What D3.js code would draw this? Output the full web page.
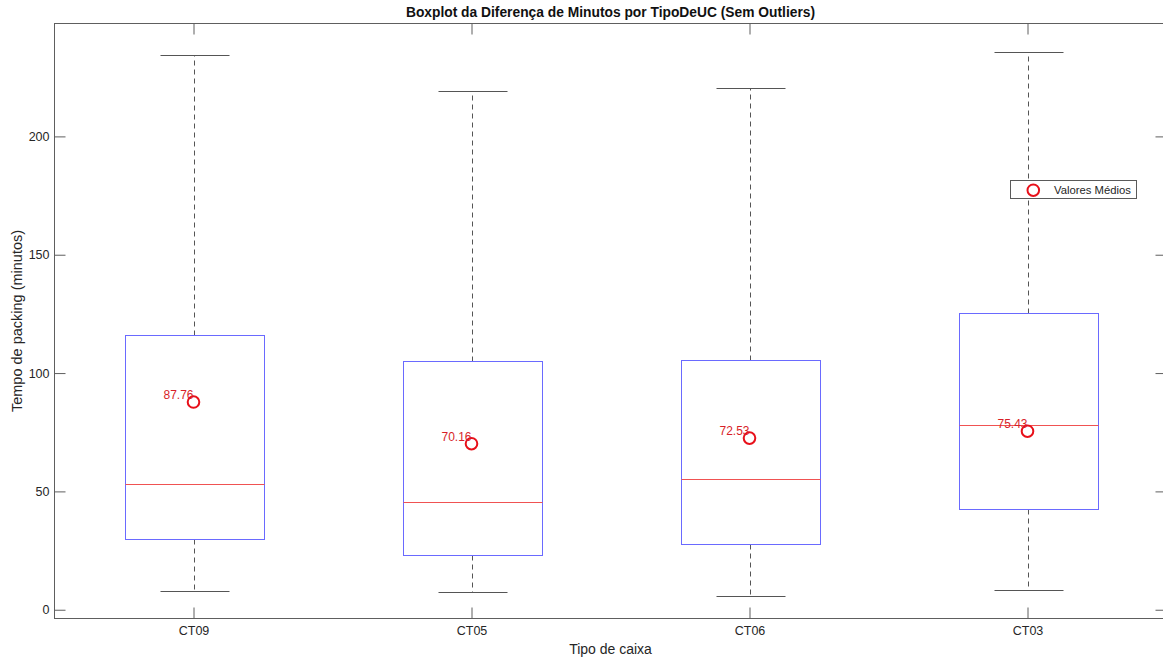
<!DOCTYPE html>
<html>
<head>
<meta charset="utf-8">
<script src="https://cdn.jsdelivr.net/npm/d3@7"></script>
<style>
  html, body { margin: 0; padding: 0; background: #fff; }
  svg { display: block; font-family: "Liberation Sans", Arial, Helvetica, sans-serif; }
</style>
</head>
<body>
<svg id="chart" width="1163" height="659"></svg>
<script>
// Box types and summary statistics (minutes)
const categories   = ["CT09", "CT05", "CT06", "CT03"];
const whiskerLow   = [7.9, 7.4, 5.9, 8.4];
const q1           = [29.7, 23.3, 27.9, 42.7];
const medians      = [53.2, 45.5, 55.3, 77.9];
const q3           = [115.9, 104.9, 105.6, 125.3];
const whiskerHigh  = [234.2, 219.0, 220.4, 235.6];
const means        = [87.76, 70.16, 72.53, 75.43];
const yTicks       = [0, 50, 100, 150, 200];
const yLimits      = [-3.7, 247.7];

const rows = categories.map((c, i) => ({
  cat: c, lo: whiskerLow[i], q1: q1[i], med: medians[i],
  q3: q3[i], hi: whiskerHigh[i], mean: means[i]
}));

const svg = d3.select("#chart");
const plot = { left: 54.5, right: 1166.5, top: 23.5, bottom: 618.5 };

// Positions 1..n with half a slot of padding at each side
const x = d3.scaleLinear().domain([0.5, categories.length + 0.5]).range([plot.left, plot.right]);
const y = d3.scaleLinear().domain(yLimits).range([plot.bottom, plot.top]);
const pos = i => x(i + 1);
const boxHalf = (x(1.25) - x(1));
const capHalf = boxHalf / 2;
const px = v => Math.round(v) + 0.5;   // snap to pixel centres for crisp 1px lines

const axisColor = "#5e5e5e";
const textColor = "#262626";
const tickLen = 11;

// Axes box
svg.append("rect")
  .attr("x", plot.left).attr("y", plot.top)
  .attr("width", plot.right - plot.left).attr("height", plot.bottom - plot.top)
  .attr("fill", "none").attr("stroke", axisColor).attr("stroke-width", 1);

// Inward ticks on all four sides
const yAxisL = d3.axisLeft(y).tickValues(yTicks).tickSizeInner(-tickLen).tickSizeOuter(0).tickPadding(5);
const yAxisR = d3.axisRight(y).tickValues(yTicks).tickSizeInner(-tickLen).tickSizeOuter(0).tickFormat("");
const xAxisB = d3.axisBottom(x).tickValues(d3.range(1, categories.length + 1))
  .tickFormat(d => categories[d - 1]).tickSizeInner(-tickLen).tickSizeOuter(0).tickPadding(8);
const xAxisT = d3.axisTop(x).tickValues(d3.range(1, categories.length + 1))
  .tickFormat("").tickSizeInner(-tickLen).tickSizeOuter(0);

function styleAxis(g) {
  g.select(".domain").remove();
  g.selectAll(".tick line").attr("stroke", axisColor).attr("stroke-width", 1);
  g.selectAll(".tick text").attr("fill", textColor).style("font-size", "12.5px")
    .style("font-family", "'Liberation Sans', Arial, sans-serif");
}
svg.append("g").attr("transform", `translate(${plot.left},0)`).call(yAxisL).call(styleAxis);
svg.append("g").attr("transform", `translate(${plot.right},0)`).call(yAxisR).call(styleAxis);
svg.append("g").attr("transform", `translate(0,${plot.bottom})`).call(xAxisB).call(styleAxis);
svg.append("g").attr("transform", `translate(0,${plot.top})`).call(xAxisT).call(styleAxis);

// Boxplots
const whiskerColor = "#555555";
const g = svg.append("g");
rows.forEach((d, i) => {
  const cx = px(pos(i));
  const yq1 = px(y(d.q1)), yq3 = px(y(d.q3)), ymed = px(y(d.med));
  const yhi = px(y(d.hi)), ylo = px(y(d.lo));
  const xl = px(cx - boxHalf), xr = px(cx + boxHalf);
  // dashed whiskers
  g.append("line").attr("x1", cx).attr("x2", cx).attr("y1", yq3).attr("y2", yhi)
    .attr("stroke", whiskerColor).attr("stroke-width", 1).attr("stroke-dasharray", "5,4");
  g.append("line").attr("x1", cx).attr("x2", cx).attr("y1", yq1).attr("y2", ylo)
    .attr("stroke", whiskerColor).attr("stroke-width", 1).attr("stroke-dasharray", "5,4");
  // caps
  [yhi, ylo].forEach(v => {
    g.append("line").attr("x1", px(cx - capHalf)).attr("x2", px(cx + capHalf))
      .attr("y1", v).attr("y2", v).attr("stroke", whiskerColor).attr("stroke-width", 1);
  });
  // box
  g.append("rect").attr("x", xl).attr("width", xr - xl)
    .attr("y", yq3).attr("height", yq1 - yq3)
    .attr("fill", "none").attr("stroke", "#6a6aff").attr("stroke-width", 1);
  // median
  g.append("line").attr("x1", xl).attr("x2", xr)
    .attr("y1", ymed).attr("y2", ymed).attr("stroke", "#f05252").attr("stroke-width", 1);
  // mean marker and label
  g.append("circle").attr("cx", pos(i)).attr("cy", y(d.mean)).attr("r", 5.8)
    .attr("fill", "none").attr("stroke", "#e8101a").attr("stroke-width", 2);
  g.append("text").attr("x", pos(i)).attr("y", y(d.mean) - 3)
    .attr("text-anchor", "end").attr("fill", "#d81e28").style("font-size", "12px")
    .text(d3.format(".2f")(d.mean));
});

// Legend
const lg = svg.append("g").attr("transform", "translate(1010.5,180.5)");
lg.append("rect").attr("width", 126).attr("height", 18)
  .attr("fill", "#fff").attr("stroke", "#5a5a5a").attr("stroke-width", 1);
lg.append("circle").attr("cx", 22.8).attr("cy", 9.7).attr("r", 5.8)
  .attr("fill", "none").attr("stroke", "#e8101a").attr("stroke-width", 2);
lg.append("text").attr("x", 43.5).attr("y", 13.5).attr("fill", textColor)
  .style("font-size", "11.3px").text("Valores Médios");

// Titles
const midX = (plot.left + plot.right) / 2;
svg.append("text").attr("x", midX).attr("y", 17).attr("text-anchor", "middle")
  .attr("fill", "#111").style("font-size", "13.8px").style("font-weight", "bold")
  .text("Boxplot da Diferença de Minutos por TipoDeUC (Sem Outliers)");
svg.append("text").attr("x", midX).attr("y", 654).attr("text-anchor", "middle")
  .attr("fill", textColor).style("font-size", "14px").text("Tipo de caixa");
svg.append("text").attr("transform", `translate(22,${(plot.top + plot.bottom) / 2}) rotate(-90)`)
  .attr("text-anchor", "middle").attr("fill", textColor).style("font-size", "14.5px")
  .text("Tempo de packing (minutos)");
</script>
</body>
</html>
